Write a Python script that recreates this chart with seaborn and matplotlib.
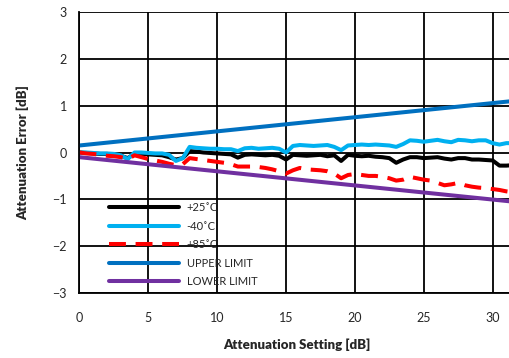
import numpy as np
import pandas as pd
import matplotlib
matplotlib.use("Agg")
import matplotlib.pyplot as plt
import seaborn as sns

# ---------------- data ----------------
atten = [i * 0.5 for i in range(64)]  # 0 .. 31.5 dB settings

err_p25 = [0.0, -0.01, -0.02, -0.03, -0.03, -0.05, -0.07, -0.12, -0.03, -0.03,
           -0.04, -0.05, -0.06, -0.10, -0.15, -0.12, 0.03, 0.02, 0.0, -0.01,
           -0.02, -0.03, -0.04, -0.11, -0.05, -0.04, -0.05, -0.06, -0.05, -0.07,
           -0.15, -0.05, -0.06, -0.07, -0.06, -0.05, -0.08, -0.06, -0.18, -0.05,
           -0.07, -0.08, -0.07, -0.09, -0.10, -0.12, -0.22, -0.15, -0.10, -0.10,
           -0.12, -0.11, -0.10, -0.13, -0.15, -0.12, -0.12, -0.15, -0.15, -0.16,
           -0.17, -0.28, -0.28, -0.27]

err_m40 = [0.0, 0.0, -0.01, -0.02, -0.02, -0.03, -0.06, -0.14, 0.0, 0.0,
           -0.01, -0.02, -0.02, -0.05, -0.18, -0.12, 0.12, 0.10, 0.09, 0.08,
           0.08, 0.07, 0.07, 0.03, 0.09, 0.10, 0.08, 0.09, 0.10, 0.08,
           0.0, 0.14, 0.16, 0.15, 0.14, 0.15, 0.16, 0.12, 0.05, 0.15,
           0.16, 0.17, 0.16, 0.17, 0.16, 0.15, 0.12, 0.18, 0.26, 0.25,
           0.23, 0.25, 0.27, 0.24, 0.22, 0.27, 0.26, 0.24, 0.26, 0.26,
           0.20, 0.17, 0.20, 0.20]

err_p85 = [0.0, -0.02, -0.03, -0.05, -0.07, -0.08, -0.10, -0.14, -0.06, -0.10,
           -0.14, -0.17, -0.20, -0.24, -0.27, -0.25, -0.12, -0.14, -0.16, -0.18,
           -0.20, -0.22, -0.25, -0.30, -0.30, -0.30, -0.31, -0.33, -0.36, -0.40,
           -0.45, -0.38, -0.33, -0.36, -0.37, -0.38, -0.40, -0.45, -0.55, -0.48,
           -0.46, -0.48, -0.50, -0.50, -0.52, -0.55, -0.60, -0.58, -0.52, -0.55,
           -0.58, -0.60, -0.65, -0.70, -0.68, -0.65, -0.70, -0.73, -0.75, -0.76,
           -0.78, -0.80, -0.83, -0.85]

limit_x = [0.0, 31.5]
upper_limit = [0.15, 1.10]
lower_limit = [-0.10, -1.05]

series_names = ["+25˚C", "-40˚C", "+85˚C", "UPPER LIMIT", "LOWER LIMIT"]
series_colors = ["#000000", "#00B0F0", "#FF0000", "#0070C0", "#7030A0"]

x_ticks = [0, 5, 10, 15, 20, 25, 30]
y_ticks = [-3, -2, -1, 0, 1, 2, 3]

# ---------------- build long table ----------------
frames = []
for name, xs, ys in [
    (series_names[0], atten, err_p25),
    (series_names[1], atten, err_m40),
    (series_names[2], atten, err_p85),
    (series_names[3], limit_x, upper_limit),
    (series_names[4], limit_x, lower_limit),
]:
    frames.append(pd.DataFrame({"x": xs, "y": ys, "series": name}))
df = pd.concat(frames, ignore_index=True)

# ---------------- figure ----------------
sns.set_style("white")
plt.rcParams["font.family"] = ["Lato", "DejaVu Sans"]

W, H = 510, 358
fig = plt.figure(figsize=(W / 100, H / 100), dpi=100)
px_per_unit = 13.77
ax_left = 79.5
ax_w = 31.5 * px_per_unit
ax_top, ax_bot = 12, 293
ax = fig.add_axes([ax_left / W, 1 - ax_bot / H, ax_w / W, (ax_bot - ax_top) / H])

palette = dict(zip(series_names, series_colors))
dashes = {n: "" for n in series_names}
dashes[series_names[2]] = (4.2, 2.4)

sns.lineplot(data=df, x="x", y="y", hue="series", style="series",
             hue_order=series_names, style_order=series_names,
             palette=palette, dashes=dashes, linewidth=2.9,
             ax=ax, legend=True, sort=False)

ax.set_xlim(0, 31.5)
ax.set_ylim(-3, 3)
ax.set_xticks(x_ticks)
ax.set_yticks(y_ticks)
ax.grid(True, color="black", linewidth=1.3)
ax.set_axisbelow(True)
for s in ["top", "right"]:
    ax.spines[s].set_visible(False)
for s in ["left", "bottom"]:
    ax.spines[s].set_color("black")
    ax.spines[s].set_linewidth(1.3)

ax.tick_params(axis="x", length=0, pad=14, labelsize=9)
ax.tick_params(axis="y", length=0, pad=9, labelsize=9)

ax.set_xlabel("Attenuation Setting [dB]", fontsize=9.5, fontweight="heavy", labelpad=10)
ax.set_ylabel("Attenuation Error [dB]", fontsize=9.5, fontweight="heavy", labelpad=17)

handles, labels = ax.get_legend_handles_labels()
leg = ax.legend(handles, labels, loc="upper left",
                bbox_to_anchor=(109 / W, 1 - 202 / H),
                bbox_transform=fig.transFigure,
                frameon=False, fontsize=8, handlelength=6.3,
                handletextpad=0.7, labelspacing=0.68,
                borderpad=0, borderaxespad=0)
for line in leg.get_lines():
    line.set_linewidth(2.9)

fig.savefig("out.png", dpi=100)
